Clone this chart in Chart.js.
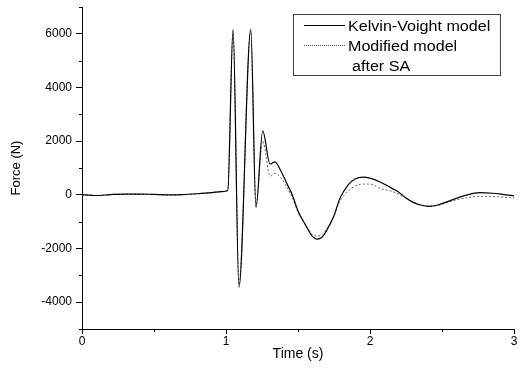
<!DOCTYPE html>
<html>
<head>
<meta charset="utf-8">
<script src="https://cdn.jsdelivr.net/npm/chart.js@4/dist/chart.umd.min.js"></script>
<style>
    body { margin: 0; background: #fff; }
    #wrap { position: relative; width: 523px; height: 383px; }
    #legend {
        position: absolute; left: 293px; top: 14px; width: 208px; height: 62px;
        border: 1px solid #444; box-sizing: border-box;
        font-family: "Liberation Sans", Arial, sans-serif; font-size: 14px; color: #000;
    }
    #legend .txt { position: absolute; transform: scaleX(1.15); transform-origin: left center; white-space: nowrap; line-height: 16px; }
    #legend .ln { position: absolute; left: 10px; width: 41px; height: 0; }
</style>
</head>
<body>
<div id="wrap">
    <canvas id="force-chart" width="523" height="383"></canvas>
    <div id="legend">
        <div class="ln" style="top:10px; border-top:1px solid #000;"></div>
        <div class="txt" style="left:54px; top:3px;">Kelvin-Voight model</div>
        <div class="ln" style="top:30px; border-top:1px dotted #555;"></div>
        <div class="txt" style="left:54px; top:23px;">Modified model</div>
        <div class="txt" style="left:58px; top:43px;">after SA</div>
    </div>
</div>
<script>
// Vaqt (s)
const time = [0, 0.05, 0.1, 0.2, 0.3, 0.4, 0.5, 0.6, 0.7, 0.8,
    0.9, 0.97, 1.012, 1.049, 1.09, 1.172, 1.208, 1.255, 1.306, 1.34,
    1.38, 1.42, 1.46, 1.5, 1.55, 1.6, 1.63, 1.67, 1.7, 1.75,
    1.79, 1.85, 1.9, 1.95, 2.0, 2.07, 2.15, 2.2, 2.25, 2.3,
    2.35, 2.41, 2.47, 2.53, 2.6, 2.67, 2.76, 2.85, 2.93, 3.0];

// Kelvin-Voight model kuchi (N)
const kelvin = [0, -10, -25, 10, 30, 30, 15, 0, 10, 40,
    80, 120, 160, 6170, -3450, 6170, -470, 2380, 1150, 1230,
    900, 450, 0, -600, -1100, -1550, -1650, -1560, -1320, -780,
    -150, 380, 600, 660, 620, 480, 250, 100, -120, -280,
    -380, -430, -380, -270, -130, -10, 80, 60, 10, -40];

// Modified model after SA kuchi (N)
const modified = [0, -10, -25, 10, 30, 30, 15, 0, 10, 40,
    80, 120, 160, 6100, -3350, 6120, -430, 2000, 700, 800,
    650, 300, -100, -650, -1100, -1480, -1540, -1470, -1260, -780,
    -250, 150, 340, 400, 400, 240, 130, 20, -130, -270,
    -370, -420, -400, -300, -190, -110, -55, -60, -90, -120];

const seriesLabels = ['Kelvin-Voight model', 'Modified model after SA'];

const font = { family: '"Liberation Sans", Arial, sans-serif' };

// Kichik (minor) chiziqchalar uchun plagin
const minorTicks = {
    id: 'minorTicks',
    afterDraw(chart) {
        const ctx = chart.ctx;
        const xs = chart.scales.x, ys = chart.scales.y;
        ctx.save();
        ctx.strokeStyle = '#000';
        ctx.lineWidth = 1;
        ctx.beginPath();
        for (let v = -5000; v <= 7000; v += 1000) {
            if (v % 2000 === 0) continue;
            const py = Math.round(ys.getPixelForValue(v)) + 0.5;
            ctx.moveTo(xs.left - 3, py);
            ctx.lineTo(xs.left, py);
        }
        for (let t = 0.5; t < 3; t += 1) {
            const px = Math.round(xs.getPixelForValue(t)) + 0.5;
            ctx.moveTo(px, ys.bottom);
            ctx.lineTo(px, ys.bottom + 3);
        }
        ctx.stroke();
        ctx.restore();
    }
};

new Chart(document.getElementById('force-chart'), {
    type: 'line',
    data: {
        labels: time,
        datasets: [{
            label: seriesLabels[0],
            data: kelvin,
            borderColor: '#000',
            borderWidth: 1.2,
            pointRadius: 0,
            cubicInterpolationMode: 'monotone'
        }, {
            label: seriesLabels[1],
            data: modified,
            borderColor: '#666',
            borderWidth: 1,
            borderDash: [2, 2],
            pointRadius: 0,
            cubicInterpolationMode: 'monotone'
        }]
    },
    options: {
        responsive: false,
        animation: false,
        devicePixelRatio: 1,
        layout: { padding: { left: 0, right: 9, top: 7, bottom: 0 } },
        plugins: {
            legend: { display: false },
            tooltip: { enabled: false }
        },
        scales: {
            x: {
                type: 'linear',
                min: 0,
                max: 3,
                border: { color: '#000', width: 1 },
                grid: {
                    drawOnChartArea: false,
                    tickLength: 5,
                    tickColor: c => Number.isInteger(c.tick.value) ? '#000' : 'rgba(0,0,0,0)'
                },
                ticks: {
                    stepSize: 0.5,
                    autoSkip: false,
                    maxRotation: 0,
                    padding: 0,
                    color: '#000',
                    font: { ...font, size: 12 },
                    callback: v => Number.isInteger(v) ? String(v) : ''
                },
                title: {
                    display: true,
                    text: 'Time (s)',
                    color: '#000',
                    font: { ...font, size: 14 },
                    padding: { top: 0, bottom: 20 }
                },
                afterFit: s => { s.height = 54; s.paddingLeft = 0; s.paddingRight = 0; }
            },
            y: {
                min: -5000,
                max: 7000,
                border: { color: '#000', width: 1 },
                grid: {
                    drawOnChartArea: false,
                    tickLength: 6,
                    tickColor: c => c.tick.value % 2000 === 0 ? '#000' : 'rgba(0,0,0,0)'
                },
                ticks: {
                    stepSize: 1000,
                    autoSkip: false,
                    padding: 4,
                    color: '#000',
                    font: { ...font, size: 12 },
                    callback: v => v % 2000 === 0 ? String(v) : ''
                },
                title: {
                    display: true,
                    text: 'Force (N)',
                    color: '#000',
                    font: { ...font, size: 13 },
                    padding: { top: 9, bottom: 0 }
                },
                afterFit: s => { s.width = 82; s.paddingTop = 0; s.paddingBottom = 0; }
            }
        }
    },
    plugins: [minorTicks]
});
</script>
</body>
</html>
